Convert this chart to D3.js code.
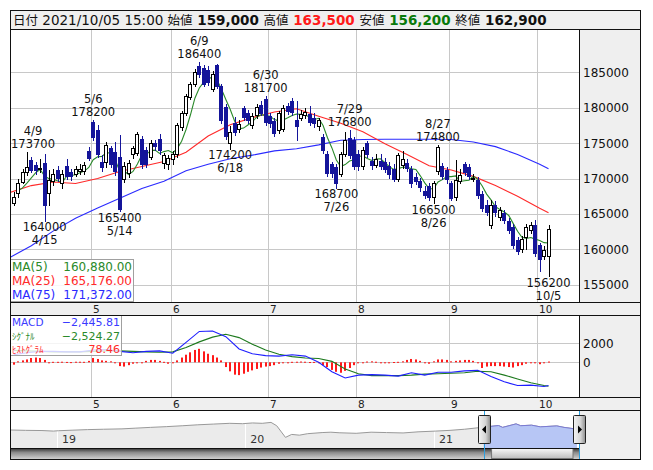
<!DOCTYPE html>
<html><head><meta charset="utf-8">
<script src="https://cdn.jsdelivr.net/npm/d3@7"></script>
<style>body{margin:0;background:#fff;} svg{display:block;}</style>
</head><body><svg id="c" width="653" height="470"></svg>
<script>
// ---------------- DATA ----------------
const headerDate = "2021/10/05 15:00";
const dates = [
 "4/1","4/2","4/5","4/6","4/7","4/8","4/9","4/12","4/13","4/14","4/15","4/16","4/19","4/20","4/21","4/22","4/23","4/26","4/27","4/28","4/30",
 "5/6","5/7","5/10","5/11","5/12","5/13","5/14","5/17","5/18","5/19","5/20","5/21","5/24","5/25","5/26","5/27","5/28","5/31",
 "6/1","6/2","6/3","6/4","6/7","6/8","6/9","6/10","6/11","6/14","6/15","6/16","6/17","6/18","6/21","6/22","6/23","6/24","6/25","6/28","6/29","6/30",
 "7/1","7/2","7/5","7/6","7/7","7/8","7/9","7/12","7/13","7/14","7/15","7/16","7/19","7/20","7/21","7/26","7/27","7/28","7/29","7/30",
 "8/2","8/3","8/4","8/5","8/6","8/10","8/11","8/12","8/13","8/16","8/17","8/18","8/19","8/20","8/23","8/24","8/25","8/26","8/27","8/30","8/31",
 "9/1","9/2","9/3","9/6","9/7","9/8","9/9","9/10","9/13","9/14","9/15","9/16","9/17","9/21","9/22","9/24","9/27","9/28","9/29","9/30",
 "10/1","10/4","10/5"];
const open = [
 168500,168800,168300,166500,167900,169500,170900,172600,171900,171300,172200,167900,169600,171200,169300,171700,170900,170600,171000,171000,173900,
 178000,176900,172400,172400,174300,173800,173000,169900,170800,173500,173600,175600,174000,173000,175000,175600,172200,172100,
 172700,173400,177300,179300,181500,183300,185900,185600,185300,182700,186000,183000,180100,175000,177800,177000,179900,179300,177600,179000,180400,181200,
 178800,178100,176800,177000,180200,181000,178200,178600,179000,179100,178600,177400,175900,173500,172000,171600,170700,173500,175700,175400,
 173500,171800,175000,172500,171900,172500,172400,171800,171400,170000,171900,172200,171400,170200,169600,168300,169000,167400,171000,171800,171200,
 169300,167400,169700,172000,171600,170000,169800,167800,166300,163400,166300,164500,165100,164000,163200,161300,160000,161800,162700,163400,
 160600,159000,159000];
const high = [
 169500,169600,169000,168100,170000,171400,173700,173000,172300,172700,173500,171200,171300,171700,171200,172700,171400,171800,172000,172400,174400,
 178200,177500,173300,175200,174600,175200,176100,172300,172600,174600,176600,176000,174500,175400,175500,176300,173600,173300,
 173900,177800,179600,182000,183700,185400,186400,186100,185900,185200,186200,183400,180500,177400,178700,178300,180300,179700,179200,180500,180900,181700,
 179300,178500,179600,180400,180600,181300,180900,179700,180000,180300,179200,178600,176300,173900,172400,172100,173800,176600,176800,175800,
 174000,174500,175300,173000,173400,173500,172900,172300,172000,173600,173900,172800,171800,170800,170100,168900,169400,169700,174800,172200,171600,
 169700,172600,171300,172400,172000,170600,170200,168200,166900,166900,166800,166000,165500,164400,163600,161700,161900,163600,163900,164100,
 160900,160500,163500];
const low = [
 167800,168000,167200,166200,167400,169300,170500,170900,170700,170900,164000,166300,169100,169600,168700,169900,169800,170300,170600,170700,172600,
 175500,173100,171000,171600,171600,170500,165400,169500,170200,172900,173300,171500,171600,172700,174000,173500,171500,171400,
 172000,173100,176900,178900,181200,183000,184300,183000,183200,182300,182800,177800,175600,174200,176100,176500,178300,177800,177200,178600,179000,177600,
 177300,176000,176400,176700,179100,179000,175500,178200,178600,177500,177300,176900,173600,170400,170200,168700,170300,173200,172900,171300,
 171200,171400,173000,171400,171600,171300,170900,170100,169600,169700,171500,171000,168800,169200,168300,167300,166900,166500,170700,170000,169400,
 166900,167000,169300,170500,169900,169600,167200,165400,164800,163000,164700,164100,163700,162300,160200,159300,159600,160000,162300,159000,
 156900,158600,156200];
const close = [
 168800,168300,167500,167400,169300,170900,171600,171200,171200,171500,166200,169800,170700,170100,170700,170300,170300,171300,171400,171900,172900,
 175800,173400,171600,174700,172100,171000,165700,171800,172200,174300,176300,172000,172100,175000,174600,174000,173300,172900,
 173400,177500,179200,181600,183300,185100,184700,183400,183700,184800,183100,178200,176000,176600,176600,177700,178700,178200,178800,180100,179300,178000,
 177800,176400,179200,180000,179500,179400,177400,179100,179400,178000,177800,178200,174000,170800,170800,169300,173500,175400,173300,171700,
 171700,174000,173500,171900,172700,171800,171300,170600,170000,173300,172700,171500,169300,169600,168800,167700,167400,169300,174400,170400,169900,
 167300,169800,170500,170900,170300,170100,167600,165800,165200,166200,165300,165600,164100,162700,160600,159700,161400,163200,163400,159500,
 158700,159900,162900];

const maIdx = [2,7,12,17,22,27,32,37,42,47,52,57,62,67,72,77,82,87,92,97,102,107,112,117,122,124];
const ma25 = [168000,169000,169500,169300,170000,171000,171700,172400,173700,176000,177600,178600,179400,179850,178800,177800,176600,174900,173400,171800,171200,170300,169000,167500,165800,165176];
const ma75 = [158800,160500,162600,164400,165850,167200,168600,169600,171100,172000,172800,173300,173900,174200,174750,175400,175500,175550,175550,175550,175500,175150,174500,173400,172000,171372];

// MACD panel
const macdIdx = [3,6,9,12,15,18,21,24,27,30,33,36,39,42,45,48,51,54,57,60,63,66,69,72,75,78,81,84,87,90,93,96,99,102,105,108,111,114,117,120,123,124];
const macd = [800,1000,1150,1150,1100,1100,1300,1350,1150,1000, 1150,1200,950,2100,3250,3300,2700,1400,900,700, 650,800,650,0,-1000,-1650,-1350,-1300,-1350,-1450, -1100,-1350,-1050,-1050,-900,-850,-1500,-2050,-2450,-2400, -2550,-2445.81];
const signal = [1250,1200,1150,1100,1100,1100,1150,1200,1200,1150, 1100,1050,1100,1550,2150,2650,2950,2600,1900,1300, 850,600,450,400,100,-700,-1200,-1400,-1400,-1400, -1350,-1250,-1200,-1150,-1100,-950,-1000,-1350,-1750,-2150, -2450,-2524.27];
const hist = [
 0,-100,-200,-250,100,200,300,450,500,450,
 250,0,50,50,60,40,20,60,60,50,
 150,450,350,200,150,100,-50,-400,-450,-300,
 -150,-100,0,150,250,250,150,50,-150,-50,
 200,500,800,1050,1300,1420,1150,900,750,500,
 200,-500,-950,-1300,-1350,-1200,-1000,-850,-700,-550,
 -450,-400,-300,-150,-50,0,50,60,80,60,
 30,40,-100,-300,-500,-800,-1000,-1100,-900,-600,
 -300,-100,0,80,100,60,0,-20,0,30,
 50,100,250,350,300,150,-50,-150,100,300,
 300,250,100,150,200,250,250,150,0,-600,
 -450,-400,-400,-400,-450,-500,-550,-400,-300,-150,
 -50,-100,-200,-100,78.46];

const priceTicks = [155000,160000,165000,170000,175000,180000,185000];
const macdTicks = [0,2000];
const highMarks = [6,21,45,60,79,99];
const lowMarks = [10,27,52,76,98,124];

// navigator (long-term history)
const navDates = ["2018-10-02","2018-11-01","2018-12-03","2018-12-25","2019-01-04","2019-02-01","2019-03-01","2019-04-01","2019-05-07","2019-06-03","2019-07-01","2019-08-01","2019-09-02","2019-10-01","2019-11-01","2019-12-02","2019-12-27","2020-01-15","2020-02-03","2020-02-20","2020-03-02","2020-03-19","2020-03-31","2020-04-15","2020-05-01","2020-05-29","2020-06-15","2020-07-01","2020-08-03","2020-09-01","2020-10-01","2020-11-02","2020-12-01","2021-01-04","2021-02-01","2021-03-01","2021-04-06","2021-05-06","2021-05-14","2021-06-09","2021-06-18","2021-07-09","2021-07-26","2021-08-27","2021-09-10","2021-10-01","2021-10-05"];
const navPrice = [152000,150000,149000,146000,148000,151000,154000,156000,158000,162000,166000,170000,175000,180000,184000,188000,186000,190000,188000,193000,175000,112000,128000,124000,132000,138000,140000,137000,134000,140000,138000,136000,142000,146000,150000,156000,167000,176000,166000,185000,175000,178000,169000,174000,166000,158000,162900];
const navYears = ["2019-01-01","2020-01-01","2021-01-01"];
const navYearLabels = ["19","20","21"];
const navSelStart = "2021-04-07";

// ---------------- LAYOUT ----------------
const L=10, R=640, PR=579;
const T0=10, T1=29, M1=302, B1=315, MC1=397, B2=410, NS=448, NB=459;
const FONT = "'DejaVu Sans', Verdana, sans-serif";
const CJK = "'Noto Sans CJK JP', sans-serif";
const GRID = "#c8c8c8", PANEL="#efefef";
const UP_STROKE="#000", DOWN="#14149a";
const C_MA5="#2a8a2a", C_MA25="#ff2a2a", C_MA75="#2a2aff";

const svg = d3.select("#c");
const defs = svg.append("defs");
defs.append("clipPath").attr("id","cm").append("rect").attr("x",L+1).attr("y",T1+1).attr("width",PR-L-1).attr("height",M1-T1-1);
defs.append("clipPath").attr("id","cd").append("rect").attr("x",L+1).attr("y",B1+1).attr("width",PR-L-1).attr("height",MC1-B1-1);

const x = d3.scaleLinear().domain([2.172,130.9]).range([L,PR]);
const step = x(1)-x(0);
const y = d3.scaleLinear().domain([152557,191116]).range([M1,T1]);
const yM = d3.scaleLinear().domain([-3653,4979]).range([MC1,B1]);
const px = v => Math.round(v)+0.5;

// panels
svg.append("rect").attr("x",0).attr("y",0).attr("width",653).attr("height",470).attr("fill","#fff");
[[L,T0,R-L,T1-T0],[PR,T1,R-PR,M1-T1],[L,M1,R-L,B1-M1],[PR,B1,R-PR,MC1-B1],[L,MC1,R-L,B2-MC1],[PR,B2,R-PR,NB-B2]]
 .forEach(r=>svg.append("rect").attr("x",r[0]).attr("y",r[1]).attr("width",r[2]).attr("height",r[3]).attr("fill",PANEL));

// month starts
const monthStarts = [];
dates.forEach((d,i)=>{ if(i>0 && d.split("/")[0]!==dates[i-1].split("/")[0]) monthStarts.push(i); });
const mx = i => px(x(i)-step/2);

// ---- main grid
const gm = svg.append("g");
gm.selectAll("line.h").data(priceTicks).join("line")
 .attr("x1",L).attr("x2",PR).attr("y1",d=>px(y(d))).attr("y2",d=>px(y(d))).attr("stroke",GRID);
gm.selectAll("line.v").data(monthStarts).join("line")
 .attr("x1",mx).attr("x2",mx).attr("y1",T1).attr("y2",M1).attr("stroke",GRID);
svg.append("g").selectAll("text").data(priceTicks).join("text")
 .attr("x",PR+4).attr("y",d=>y(d)+4.5).attr("font-family",FONT).attr("font-size",12).attr("fill","#111").text(d=>d);

// ---- MA lines
const mg = svg.append("g").attr("clip-path","url(#cm)");
const lineIdx = (vals, idx) => d3.line().x((d,k)=>x(idx[k])).y(d=>y(d))(vals);
mg.append("path").attr("d",lineIdx(ma75,maIdx)).attr("fill","none").attr("stroke",C_MA75).attr("stroke-width",1.1);
mg.append("path").attr("d",lineIdx(ma25,maIdx)).attr("fill","none").attr("stroke",C_MA25).attr("stroke-width",1.1);
const ma5 = close.map((c,i)=> i<4 ? null : d3.mean(close.slice(i-4,i+1)));
mg.append("path").attr("d",d3.line().defined(d=>d!==null).x((d,i)=>x(i)).y(d=>y(d))(ma5))
 .attr("fill","none").attr("stroke",C_MA5).attr("stroke-width",1.1);

// ---- candles
const idx = d3.range(close.length);
const cg = svg.append("g").attr("clip-path","url(#cm)");
cg.selectAll("line.w").data(idx).join("line")
 .attr("x1",i=>px(x(i))).attr("x2",i=>px(x(i)))
 .attr("y1",i=>Math.round(y(high[i]))).attr("y2",i=>Math.round(y(low[i]))+1)
 .attr("stroke",i=>close[i]>=open[i]?UP_STROKE:DOWN);
cg.selectAll("rect.b").data(idx).join("rect")
 .attr("x",i=>Math.round(x(i))-1.5)
 .attr("y",i=>Math.round(y(Math.max(open[i],close[i])))+0.5)
 .attr("width",3)
 .attr("height",i=>Math.max(1,Math.round(y(Math.min(open[i],close[i])))-Math.round(y(Math.max(open[i],close[i])))))
 .attr("fill",i=>close[i]>=open[i]?"#fff":DOWN)
 .attr("stroke",i=>close[i]>=open[i]?UP_STROKE:DOWN);

// ---- annotations (kept inside the plot area)
const ag = svg.append("g").attr("font-family",FONT).attr("font-size",11.5).attr("fill","#111").attr("text-anchor","middle");
const halfW = 22;
const ax = i => Math.min(PR-1-halfW, Math.max(L+1+halfW, x(i)));
highMarks.forEach(i=>{
  const yy = y(high[i]);
  ag.append("text").attr("x",ax(i)).attr("y",yy-4).text(high[i]);
  ag.append("text").attr("x",ax(i)).attr("y",yy-17).text(dates[i]);
});
lowMarks.forEach(i=>{
  const yy = y(low[i]);
  ag.append("text").attr("x",ax(i)).attr("y",yy+10.5).text(low[i]);
  ag.append("text").attr("x",ax(i)).attr("y",yy+23.5).text(dates[i]);
});

// ---- MA legend
const fmt2 = d3.format(",.2f");
const lg = svg.append("g");
lg.append("rect").attr("x",L+0.5).attr("y",259.5).attr("width",123).attr("height",42).attr("fill","#fff").attr("fill-opacity",0.85).attr("stroke","#a0a0a0");
[["MA(5)",ma5[ma5.length-1],C_MA5],["MA(25)",ma25[ma25.length-1],C_MA25],["MA(75)",ma75[ma75.length-1],C_MA75]].forEach((r,k)=>{
  lg.append("text").attr("x",L+2).attr("y",271+k*14).attr("font-family",FONT).attr("font-size",12).attr("fill",r[2]).text(r[0]);
  lg.append("text").attr("x",L+122).attr("y",271+k*14).attr("text-anchor","end").attr("font-family",FONT).attr("font-size",12).attr("fill",r[2]).text(fmt2(r[1]));
});

// ---- month bands
[M1,MC1].forEach(by=>{
  svg.append("g").selectAll("text").data(monthStarts).join("text")
   .attr("x",i=>mx(i)+1.5).attr("y",by+11).attr("font-family",FONT).attr("font-size",10.5).attr("fill","#222")
   .text(i=>dates[i].split("/")[0]);
});

// ---- MACD panel
const gd = svg.append("g");
gd.selectAll("line.h").data(macdTicks).join("line")
 .attr("x1",L).attr("x2",PR).attr("y1",d=>px(yM(d))).attr("y2",d=>px(yM(d))).attr("stroke",GRID);
gd.selectAll("line.v").data(monthStarts).join("line")
 .attr("x1",mx).attr("x2",mx).attr("y1",B1).attr("y2",MC1).attr("stroke",GRID);
svg.append("g").selectAll("text").data(macdTicks).join("text")
 .attr("x",PR+4).attr("y",d=>yM(d)+4.5).attr("font-family",FONT).attr("font-size",12).attr("fill","#111").text(d=>d);
const dg = svg.append("g").attr("clip-path","url(#cd)");
dg.selectAll("rect").data(idx).join("rect")
 .attr("x",i=>Math.round(x(i))-1).attr("width",2)
 .attr("y",i=>Math.min(yM(0),yM(hist[i]))).attr("height",i=>Math.max(1,Math.abs(yM(hist[i])-yM(0))))
 .attr("fill","#ff1a1a");
const lineM = vals => d3.line().x((d,k)=>x(macdIdx[k])).y(d=>yM(d))(vals);
dg.append("path").attr("d",lineM(signal)).attr("fill","none").attr("stroke","#1e7a1e").attr("stroke-width",1.1);
dg.append("path").attr("d",lineM(macd)).attr("fill","none").attr("stroke","#1e1eff").attr("stroke-width",1.1);

// MACD legend
const ml = svg.append("g");
ml.append("rect").attr("x",L+0.5).attr("y",B1+0.5).attr("width",111).attr("height",40).attr("fill","#fff").attr("fill-opacity",0.8).attr("stroke","#a0a0a0");
[["MACD",macd[macd.length-1],"#3a3aff",FONT,10.5],["ｼｸﾞﾅﾙ",signal[signal.length-1],"#2a8a2a",CJK,9],["ﾋｽﾄｸﾞﾗﾑ",hist[hist.length-1],"#ff2a2a",CJK,9]].forEach((r,k)=>{
  ml.append("text").attr("x",L+2).attr("y",B1+11+k*13.5).attr("font-family",r[3]).attr("font-size",r[4]).attr("fill",r[2]).text(r[0]);
  ml.append("text").attr("x",L+110).attr("y",B1+11+k*13.5).attr("text-anchor","end").attr("font-family",FONT).attr("font-size",11).attr("fill",r[2]).text(fmt2(r[1]));
});

// ---- navigator
const pd = d3.timeParse("%Y-%m-%d");
const nx = d3.scaleTime().domain([pd("2018-10-02"),pd("2021-10-09")]).range([L,PR]);
const ny = d3.scaleLinear().domain([60000,260000]).range([447,B2]);
const navPts = navDates.map((d,k)=>[nx(pd(d)),ny(navPrice[k])]);
defs.append("clipPath").attr("id","cn").append("rect").attr("x",L+1).attr("y",B2+1).attr("width",PR-L-1).attr("height",NS-B2-1);
const selX0 = nx(pd(navSelStart));
defs.append("clipPath").attr("id","cs").append("rect").attr("x",selX0).attr("y",B2+1).attr("width",PR-selX0).attr("height",NS-B2-1);
const ng = svg.append("g").attr("clip-path","url(#cn)");
const area = d3.area().x(d=>d[0]).y0(NS).y1(d=>d[1]);
const nline = d3.line().x(d=>d[0]).y(d=>d[1]);
ng.append("path").attr("d",area(navPts)).attr("fill","#ebebeb");
ng.selectAll("line.yr").data(navYears).join("line")
 .attr("x1",d=>px(nx(pd(d)))).attr("x2",d=>px(nx(pd(d)))).attr("y1",B2).attr("y2",NS).attr("stroke","#fff");
ng.append("path").attr("d",nline(navPts)).attr("fill","none").attr("stroke","#999").attr("stroke-width",1);
const sg = svg.append("g").attr("clip-path","url(#cs)");
sg.append("path").attr("d",area(navPts)).attr("fill","#b7c6f5");
sg.append("path").attr("d",nline(navPts)).attr("fill","none").attr("stroke","#7a7ad4").attr("stroke-width",1);
svg.append("g").selectAll("text").data(navYears).join("text")
 .attr("x",d=>nx(pd(d))+5).attr("y",443).attr("font-family",FONT).attr("font-size",11).attr("fill","#333")
 .text((d,k)=>navYearLabels[k]);

// scrollbar
const gTrack = defs.append("linearGradient").attr("id","gt").attr("x1",0).attr("x2",0).attr("y1",0).attr("y2",1);
gTrack.append("stop").attr("offset","0%").attr("stop-color","#2a2a2a");
gTrack.append("stop").attr("offset","40%").attr("stop-color","#8a8a8a");
gTrack.append("stop").attr("offset","100%").attr("stop-color","#d0d0d0");
const gThumb = defs.append("linearGradient").attr("id","gth").attr("x1",0).attr("x2",0).attr("y1",0).attr("y2",1);
gThumb.append("stop").attr("offset","0%").attr("stop-color","#f8f8f8");
gThumb.append("stop").attr("offset","100%").attr("stop-color","#bdbdbd");
const gHandle = defs.append("linearGradient").attr("id","gh").attr("x1",0).attr("x2",1).attr("y1",0).attr("y2",0);
gHandle.append("stop").attr("offset","0%").attr("stop-color","#f4f4f4");
gHandle.append("stop").attr("offset","60%").attr("stop-color","#d4d4d4");
gHandle.append("stop").attr("offset","100%").attr("stop-color","#8c8c8c");
svg.append("rect").attr("x",L).attr("y",NS).attr("width",PR-L).attr("height",NB-NS).attr("fill","url(#gt)");
svg.append("rect").attr("x",selX0+8).attr("y",NS+0.5).attr("width",PR-selX0-14).attr("height",NB-NS-1).attr("fill","url(#gth)").attr("stroke","#777");
svg.append("line").attr("x1",L).attr("x2",PR).attr("y1",NS+0.5).attr("y2",NS+0.5).attr("stroke","#111");

// selection lines & handles
[selX0,PR].forEach((hx,k)=>{
  svg.append("line").attr("x1",px(hx)).attr("x2",px(hx)).attr("y1",B2).attr("y2",NB).attr("stroke","#2b9fe0");
  const hx0 = Math.round(hx)-6;
  svg.append("rect").attr("x",hx0+0.5).attr("y",415.5).attr("width",12).attr("height",28).attr("rx",1).attr("fill","url(#gh)").attr("stroke","#222");
  const cx = hx0+6.5, cy = 429.5;
  const tri = k===0 ? [[cx-2.5,cy],[cx+1.5,cy-4],[cx+1.5,cy+4]] : [[cx+2.5,cy],[cx-1.5,cy-4],[cx-1.5,cy+4]];
  svg.append("path").attr("d","M"+tri.map(p=>p.join(",")).join("L")+"Z").attr("fill","#000");
});

// ---- header text
const fmt0 = d3.format(",");
const last = close.length-1;
const ht = svg.append("text").attr("x",L+3).attr("y",T0+15).attr("font-family",FONT).attr("font-size",14).attr("fill","#111").attr("xml:space","preserve");
const parts = [
  ["日付",CJK,12.5,"normal","#111"],[" "+headerDate+" ",FONT,13.5,"normal","#111"],
  ["始値",CJK,12.5,"normal","#111"],[" "+fmt0(open[last])+" ",FONT,13.5,"bold","#111"],
  ["高値",CJK,12.5,"normal","#111"],[" "+fmt0(high[last])+" ",FONT,13.5,"bold","#ff1a1a"],
  ["安値",CJK,12.5,"normal","#111"],[" "+fmt0(low[last])+" ",FONT,13.5,"bold","#0a7a0a"],
  ["終値",CJK,12.5,"normal","#111"],[" "+fmt0(close[last]),FONT,13.5,"bold","#111"]];
parts.forEach(p=>ht.append("tspan").attr("font-family",p[1]).attr("font-size",p[2]).attr("font-weight",p[3]).attr("fill",p[4]).text(p[0]));

// ---- borders
const bd = svg.append("g").attr("stroke","#111").attr("fill","none");
[T0,T1,M1,B1,MC1,B2,NB].forEach(yy=>bd.append("line").attr("x1",L).attr("x2",R).attr("y1",yy+0.5).attr("y2",yy+0.5));
bd.append("line").attr("x1",L+0.5).attr("x2",L+0.5).attr("y1",T0).attr("y2",NB+1);
bd.append("line").attr("x1",R+0.5).attr("x2",R+0.5).attr("y1",T0).attr("y2",NB+1);
[[T1,M1],[B1,MC1]].forEach(s=>bd.append("line").attr("x1",PR+0.5).attr("x2",PR+0.5).attr("y1",s[0]).attr("y2",s[1]));
</script></body></html>
